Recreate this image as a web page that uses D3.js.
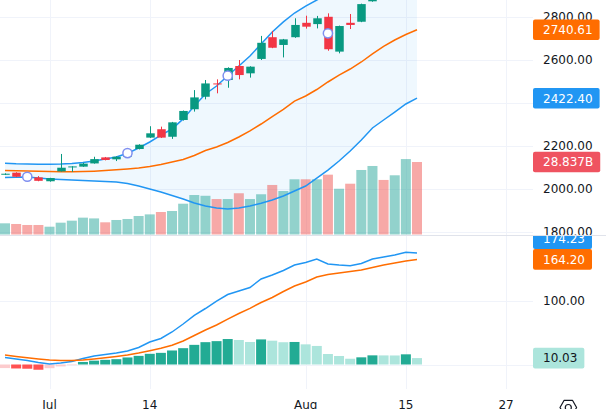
<!DOCTYPE html>
<html><head><meta charset="utf-8">
<script src="https://cdn.jsdelivr.net/npm/d3@7"></script>
<style>html,body{margin:0;padding:0;background:#fff;overflow:hidden}svg{display:block}</style>
</head><body><svg id="c" width="606" height="409"></svg>
<script>
// ---------- data ----------
const dateTickIndex  = [4, 13, 27, 36, 45];
const dateTickLabels = ["Jul", "14", "Aug", "15", "27"];

const open  = [2067,2076,2064,2054,2036,2082,2103,2104,2119,2147,2138,2150,2186,2239,2278,2243,2321,2371,2429,2491,2507,2572,2538,2605,2706,2670,2706,2773,2767,2801,2639,2773,2778,2873,2960,2920,2980,3040];
const high  = [2073,2078,2068,2060,2052,2163,2106,2122,2150,2149,2152,2172,2208,2292,2290,2312,2365,2460,2507,2510,2566,2600,2571,2712,2735,2698,2794,2806,2805,2817,2760,2814,2862,2935,2978,2990,3060,3070];
const low   = [2065,2055,2050,2036,2034,2081,2080,2103,2118,2133,2130,2148,2184,2237,2237,2233,2318,2360,2417,2445,2471,2510,2518,2600,2655,2612,2703,2746,2747,2643,2631,2744,2776,2871,2905,2912,2972,3000];
const close = [2071,2057,2054,2038,2051,2099,2105,2118,2139,2135,2150,2166,2206,2259,2239,2310,2363,2426,2491,2487,2563,2530,2569,2680,2657,2696,2763,2755,2794,2650,2758,2763,2860,2925,2915,2985,3050,3010];

// volume, billions
const volume = [4.45,4.18,3.78,3.78,3.1,4.7,5.5,6.7,6.4,4.85,5.77,6.17,7.36,8.0,8.95,9.35,12.25,15.7,15.4,14.1,14.1,16.4,14.1,16.0,19.7,17.3,21.96,21.96,21.96,23.8,18.2,20.2,25.66,27.25,21.7,23.55,30.0,28.837];

const bbUpper  = [2119.5,2117,2116,2115,2115,2116,2118.6,2123,2130,2139.5,2149,2166,2190.7,2218.6,2251,2279,2326,2386,2442,2479,2527,2572,2618.6,2674.4,2730,2777,2818.6,2851,2879,2907,2930,2939,2953,2972,3005,3028,3042,3059];
const bbMiddle = [2086,2084.7,2083.7,2082.8,2081.4,2080.5,2080,2081,2083,2086,2089.3,2093,2097.7,2104.6,2114,2125.6,2137,2156,2179,2195.3,2216.3,2242,2270,2302.3,2337,2370,2409,2432.6,2462.8,2497.7,2530,2558,2590.7,2628,2663,2693,2718.6,2740.61];
const bbLower  = [2053.5,2054.4,2055.8,2051,2046.5,2044,2042,2039.5,2037.2,2035,2032.6,2025.6,2014,2000,1986,1970,1953.5,1935,1921,1911.6,1907,1911.6,1921,1933.5,1949,1967.4,1990.7,2014,2051,2088,2130,2176.7,2228,2283.7,2321,2358,2395.3,2422.4];

const markerIndex = [2, 11, 20, 29];
const markerPrice = [2057, 2167, 2527, 2724];

const macdLine   = [10.9,8.6,6.25,3.1,0.8,2.3,4.7,9.4,13.3,15.6,18,21,26.6,35.2,40.6,50.8,63.3,76.6,87.5,99.2,109.4,114.8,120.3,133.6,139.8,146.9,155.5,159.4,164.8,157,155.5,154.4,157.8,164.8,168,171,175.3,174.23];
const signalLine = [14.8,12.5,10.5,8.6,7,6.25,6.25,7,8.6,10.5,12.5,14.8,18,21.6,25.3,30,36.7,45.3,53.9,61.7,71,79.7,87.8,96.9,104.7,114,122.7,128.9,136.7,140.6,143,145.3,147.7,151.6,155.5,158.6,161.7,164.2];
const histogram  = [-5.6,-6.2,-6.6,-8.2,-5.8,-3,-1,4,6,7.3,8.3,11,13.5,16.7,18.2,21.9,25.5,30.7,34.9,36.5,39.8,38.3,35.2,39.2,37.2,34.8,35.2,31.5,29,16.4,13.3,9,11.2,14.3,14.2,14.1,15.9,10.03];
const histPrev = -6;

const priceTicks = [1800, 2000, 2200, 2400, 2600, 2800];
const macdTicks  = [0, 100];

// ---------- layout ----------
const plotRight = 533, mainBottom = 235, lowTop = 236, lowBottom = 389;
const FONT = "'DejaVu Sans', sans-serif";
const UP = "#089981", DOWN = "#F23645", BLUE = "#2196F3", ORANGE = "#FF6D00";
const TXT = "#131722", GRID = "#f0f3fa";

const x  = d3.scaleLinear().domain([0, 37]).range([5, 417]);
const yP = d3.scaleLinear().domain([1800, 2800]).range([232, 17]);
const yV = d3.scaleLinear().domain([0, 28.837]).range([234.5, 162]);
const yM = d3.scaleLinear().domain([0, 100]).range([364.5, 300.5]);

const svg = d3.select("#c");
const defs = svg.append("defs");
function clip(id, x0, y0, w, h) {
  defs.append("clipPath").attr("id", id).append("rect").attr("x", x0).attr("y", y0).attr("width", w).attr("height", h);
}
clip("cMain", 0, 0, plotRight, mainBottom);
clip("cLow", 0, lowTop, plotRight, lowBottom - lowTop);
clip("sMain", plotRight, 0, 606 - plotRight, mainBottom);
clip("sLow", plotRight, lowTop, 606 - plotRight, lowBottom - lowTop);

const idx = d3.range(open.length);

// vertical grid
svg.append("g").selectAll("line").data(dateTickIndex).join("line")
  .attr("x1", d => Math.round(x(d)) + 0.5).attr("x2", d => Math.round(x(d)) + 0.5)
  .attr("y1", 0).attr("y2", lowBottom).attr("stroke", GRID).attr("stroke-width", 1);

// ---------- main pane ----------
const gMain = svg.append("g").attr("clip-path", "url(#cMain)");
gMain.selectAll("line.h").data(priceTicks).join("line").attr("class", "h")
  .attr("x1", 0).attr("x2", plotRight)
  .attr("y1", d => Math.round(yP(d)) + 0.5).attr("y2", d => Math.round(yP(d)) + 0.5)
  .attr("stroke", GRID);

gMain.append("path").datum(idx)
  .attr("d", d3.area().x(i => x(i)).y0(i => yP(bbLower[i])).y1(i => yP(bbUpper[i])))
  .attr("fill", "rgba(33,150,243,0.07)");

gMain.selectAll("rect.v").data(idx).join("rect").attr("class", "v")
  .attr("x", i => x(i) - 5).attr("width", 10)
  .attr("y", i => yV(volume[i])).attr("height", i => yV(0) - yV(volume[i]))
  .attr("fill", i => close[i] >= open[i] ? "rgba(38,166,154,0.5)" : "rgba(239,83,80,0.5)");

const lineP = arr => d3.line().x(i => x(i)).y(i => yP(arr[i]));
[[bbUpper, BLUE], [bbLower, BLUE], [bbMiddle, ORANGE]].forEach(([arr, col]) => {
  gMain.append("path").datum(idx).attr("d", lineP(arr))
    .attr("fill", "none").attr("stroke", col).attr("stroke-width", 1.5);
});

const gC = gMain.append("g");
gC.selectAll("line").data(idx).join("line")
  .attr("x1", i => Math.round(x(i)) + 0.5).attr("x2", i => Math.round(x(i)) + 0.5)
  .attr("y1", i => yP(high[i])).attr("y2", i => yP(low[i]))
  .attr("stroke", i => close[i] >= open[i] ? UP : DOWN).attr("stroke-width", 1);
gC.selectAll("rect").data(idx).join("rect")
  .attr("x", i => Math.round(x(i)) + 0.5 - 4.25).attr("width", 8.5)
  .attr("y", i => yP(Math.max(open[i], close[i])))
  .attr("height", i => Math.max(1, Math.abs(yP(open[i]) - yP(close[i]))))
  .attr("fill", i => close[i] >= open[i] ? UP : DOWN);

gMain.selectAll("circle").data(markerIndex).join("circle")
  .attr("cx", (d, k) => x(d)).attr("cy", (d, k) => yP(markerPrice[k])).attr("r", 4.6)
  .attr("fill", "#fff").attr("stroke", "#7f8ff0").attr("stroke-width", 1.5);

// ---------- lower pane ----------
const gLow = svg.append("g").attr("clip-path", "url(#cLow)");
gLow.selectAll("line.h").data(macdTicks).join("line").attr("class", "h")
  .attr("x1", 0).attr("x2", plotRight)
  .attr("y1", d => Math.round(yM(d)) + 0.5).attr("y2", d => Math.round(yM(d)) + 0.5)
  .attr("stroke", GRID);
function histColor(i) {
  const v = histogram[i], p = i > 0 ? histogram[i - 1] : histPrev;
  if (v >= 0) return v > p ? "#22ab94" : "#ace5dc";
  return v < p ? "#ff5252" : "#fccbcd";
}
gLow.selectAll("rect").data(idx).join("rect")
  .attr("x", i => x(i) - 5).attr("width", 10)
  .attr("y", i => Math.min(yM(0), yM(histogram[i])))
  .attr("height", i => Math.abs(yM(histogram[i]) - yM(0)))
  .attr("fill", histColor);
const lineM = arr => d3.line().x(i => x(i)).y(i => yM(arr[i]));
[[macdLine, BLUE], [signalLine, ORANGE]].forEach(([arr, col]) => {
  gLow.append("path").datum(idx).attr("d", lineM(arr))
    .attr("fill", "none").attr("stroke", col).attr("stroke-width", 1.5);
});

// pane divider
svg.append("line").attr("x1", 0).attr("x2", 606).attr("y1", 235.5).attr("y2", 235.5)
  .attr("stroke", "#e0e3eb").attr("stroke-width", 1);

// ---------- scales ----------
const fmt2 = d3.format(".2f");
const last = open.length - 1;
const mainLabels = [
  {y: yP(bbMiddle[last]), text: fmt2(bbMiddle[last]), bg: ORANGE, fg: "#fff"},
  {y: yP(bbLower[last]), text: fmt2(bbLower[last]), bg: BLUE, fg: "#fff"},
  {y: yV(volume[last]), text: d3.format(".3f")(volume[last]) + "B", bg: close[last] >= open[last] ? "#26a69a" : "#ef5360", fg: "#fff"}
];
const lowLabels = [
  {y: yM(macdLine[last]), text: fmt2(macdLine[last]), bg: BLUE, fg: "#fff"},
  {y: yM(signalLine[last]), text: fmt2(signalLine[last]), bg: ORANGE, fg: "#fff"},
  {y: yM(histogram[last]), text: fmt2(histogram[last]), bg: histColor(last), fg: TXT}
];
const BOXH = 20.6;
function resolve(labels) {
  const s = labels.slice().sort((a, b) => b.y - a.y);
  for (let k = 1; k < s.length; k++) {
    if (s[k - 1].y - s[k].y < BOXH) s[k].y = s[k - 1].y - BOXH;
  }
}
resolve(lowLabels);

function drawTicks(g, ticks, scale, labels) {
  ticks.forEach(t => {
    const yy = scale(t);
    if (labels.some(l => Math.abs(l.y - yy) < 10)) return;
    g.append("text").attr("x", 543).attr("y", yy + 4.4).text(fmt2(t))
      .attr("font-family", FONT).attr("font-size", 12).attr("fill", TXT);
  });
}
function drawLabels(g, labels) {
  labels.forEach(l => {
    const gg = g.append("g");
    const t = gg.append("text").attr("x", 543).attr("y", l.y + 4.4).text(l.text)
      .attr("font-family", FONT).attr("font-size", 12).attr("fill", l.fg);
    const w = t.node().getComputedTextLength();
    gg.insert("rect", "text").attr("x", 533).attr("y", l.y - BOXH / 2)
      .attr("width", w + 17).attr("height", BOXH).attr("rx", 2).attr("fill", l.bg);
  });
}
const sMain = svg.append("g").attr("clip-path", "url(#sMain)");
drawTicks(sMain, priceTicks, yP, mainLabels);
drawLabels(sMain, mainLabels);
const sLow = svg.append("g").attr("clip-path", "url(#sLow)");
drawTicks(sLow, macdTicks, yM, lowLabels);
drawLabels(sLow, lowLabels);

// time axis
svg.append("g").selectAll("text").data(dateTickIndex).join("text")
  .attr("x", d => x(d)).attr("y", 408.5).attr("text-anchor", "middle")
  .attr("font-family", FONT).attr("font-size", 12).attr("fill", TXT)
  .text((d, k) => dateTickLabels[k]);

// settings icon
const cx = 568.3, cy = 407.5, R = 8.3;
const hex = d3.range(6).map(k => [cx + R * Math.cos(k * Math.PI / 3), cy + R * Math.sin(k * Math.PI / 3)]);
svg.append("path").attr("d", "M" + hex.map(p => p.join(",")).join("L") + "Z")
  .attr("fill", "none").attr("stroke", TXT).attr("stroke-width", 1.2).attr("stroke-linejoin", "round");
svg.append("circle").attr("cx", cx).attr("cy", cy).attr("r", 3).attr("fill", "none")
  .attr("stroke", TXT).attr("stroke-width", 1.2);
</script></body></html>
